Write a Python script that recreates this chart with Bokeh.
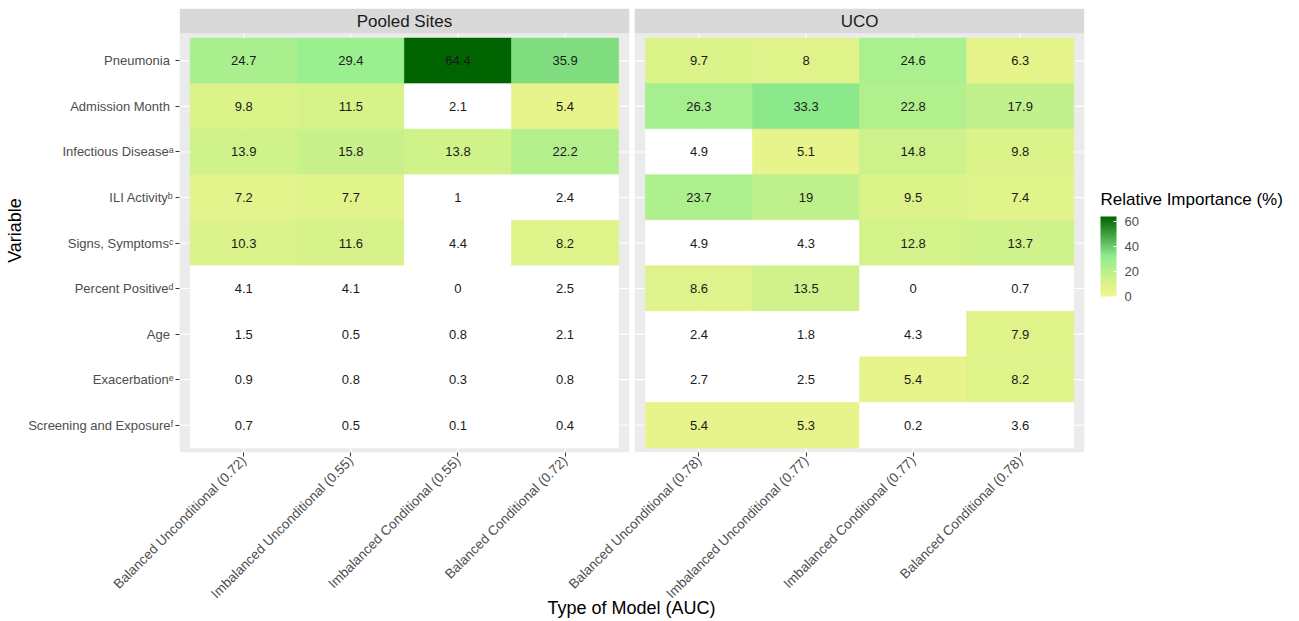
import numpy as np
from bokeh.plotting import figure
from bokeh.models import ColumnDataSource, LinearColorMapper, ColorBar, FixedTicker
from bokeh.transform import transform
from bokeh.core.properties import value
from bokeh.embed import file_html
from bokeh.resources import INLINE

# ---------------- data ----------------
variables = ["Pneumonia\u00a0", "Admission Month\u00a0", "Infectious Disease\u1d43",
             "ILI Activity\u1d47", "Signs, Symptoms\u1d9c", "Percent Positive\u1d48",
             "Age\u00a0", "Exacerbation\u1d49", "Screening and Exposure\u1da0"]
panels = ["Pooled Sites", "UCO"]
models_pooled = ["Balanced Unconditional (0.72)", "Imbalanced Unconditional (0.55)",
                 "Imbalanced Conditional (0.55)", "Balanced Conditional (0.72)"]
models_uco = ["Balanced Unconditional (0.78)", "Imbalanced Unconditional (0.77)",
              "Imbalanced Conditional (0.77)", "Balanced Conditional (0.78)"]
# rows follow `variables`, columns follow the model lists
pooled_values = [[24.7, 29.4, 64.4, 35.9],
                 [9.8, 11.5, 2.1, 5.4],
                 [13.9, 15.8, 13.8, 22.2],
                 [7.2, 7.7, 1, 2.4],
                 [10.3, 11.6, 4.4, 8.2],
                 [4.1, 4.1, 0, 2.5],
                 [1.5, 0.5, 0.8, 2.1],
                 [0.9, 0.8, 0.3, 0.8],
                 [0.7, 0.5, 0.1, 0.4]]
uco_values = [[9.7, 8, 24.6, 6.3],
              [26.3, 33.3, 22.8, 17.9],
              [4.9, 5.1, 14.8, 9.8],
              [23.7, 19, 9.5, 7.4],
              [4.9, 4.3, 12.8, 13.7],
              [8.6, 13.5, 0, 0.7],
              [2.4, 1.8, 4.3, 7.9],
              [2.7, 2.5, 5.4, 8.2],
              [5.4, 5.3, 0.2, 3.6]]
legend_ticks = [0, 20, 40, 60]
x_title = "Type of Model (AUC)"
y_title = "Variable"
legend_title = "Relative Importance (%)"

# ---------------- style / layout constants ----------------
FONT = "Liberation Sans"
EXPAND = 0.6          # ggplot discrete expansion
GAP = 0.05            # gap between facet panels (data units)
STRIP = 0.55          # strip height (data units)
SHOW_MIN = 5          # cells below this value are left white
COLOR_LOW, COLOR_HIGH = 0, 64.4
stops = [(0.0, (243, 246, 140)), (12.0, (214, 242, 138)), (32.2, (144, 238, 144)), (64.4, (0, 100, 0))]

def interp_palette(n=256):
    xs = np.linspace(COLOR_LOW, COLOR_HIGH, n)
    sp = np.array([s[0] for s in stops])
    cols = np.array([s[1] for s in stops], dtype=float)
    out = []
    for x in xs:
        r = np.interp(x, sp, cols[:, 0]); g = np.interp(x, sp, cols[:, 1]); b = np.interp(x, sp, cols[:, 2])
        out.append("#%02x%02x%02x" % (int(round(r)), int(round(g)), int(round(b))))
    return out

mapper = LinearColorMapper(palette=interp_palette(), low=COLOR_LOW, high=COLOR_HIGH, nan_color="white")

n_rows = len(variables)
n_cols = len(models_pooled)
panel_w = n_cols - 1 + 2 * EXPAND
panel_starts = [0.4 + k * (panel_w + GAP) for k in range(len(panels))]
y_lo, y_hi = 1 - EXPAND, n_rows + EXPAND

xs, ys, vals, fills, labels = [], [], [], [], []
tick_pos, tick_lab = [], []
for k, (mods, data) in enumerate([(models_pooled, pooled_values), (models_uco, uco_values)]):
    for j, m in enumerate(mods):
        xc = panel_starts[k] + EXPAND + j
        tick_pos.append(xc); tick_lab.append(m)
        for i in range(n_rows):
            v = data[i][j]
            xs.append(xc); ys.append(n_rows - i)
            vals.append(v)
            fills.append(v if v >= SHOW_MIN else np.nan)
            labels.append(f"{v:g}")

src = ColumnDataSource(dict(x=xs, y=ys, val=vals, fill=np.array(fills, dtype=float), label=labels))

x0, x1 = panel_starts[0], panel_starts[-1] + panel_w
p = figure(width=1299, height=621, output_backend="svg", toolbar_location=None,
           x_range=(x0, x1), y_range=(y_lo, y_hi + STRIP),
           min_border_left=179, min_border_right=215, min_border_top=8, min_border_bottom=169)
p.outline_line_color = None
p.grid.visible = False
p.background_fill_color = "white"
p.border_fill_color = "white"

# panel backgrounds and strips
pb = ColumnDataSource(dict(left=panel_starts, right=[s + panel_w for s in panel_starts],
                           name=panels, cx=[s + panel_w / 2 for s in panel_starts]))
p.quad(left="left", right="right", bottom=y_lo, top=y_hi, source=pb,
       fill_color="#EBEBEB", line_color=None)
p.quad(left="left", right="right", bottom=y_hi, top=y_hi + STRIP, source=pb,
       fill_color="#D9D9D9", line_color=None)
p.text(x="cx", y=y_hi + STRIP / 2, text="name", source=pb, text_align="center",
       text_baseline="middle", text_font=value(FONT), text_font_size="17px", text_color="#1A1A1A")

# grid lines (white)
gx0, gx1, gy0, gy1 = [], [], [], []
for s in panel_starts:
    for j in range(n_cols):
        xc = s + EXPAND + j
        gx0.append(xc); gx1.append(xc); gy0.append(y_lo); gy1.append(y_hi)
    for i in range(1, n_rows + 1):
        gx0.append(s); gx1.append(s + panel_w); gy0.append(i); gy1.append(i)
p.segment(x0=gx0, y0=gy0, x1=gx1, y1=gy1, line_color="white", line_width=1.1)

# tiles
p.rect(x="x", y="y", width=1, height=1, source=src,
       fill_color=transform("fill", mapper), line_color=transform("fill", mapper), line_width=0.6)
p.text(x="x", y="y", text="label", source=src, text_align="center", text_baseline="middle",
       text_font=value(FONT), text_font_size="13px", text_color="#1A1A1A")

# axes
p.xaxis.ticker = FixedTicker(ticks=tick_pos)
p.xaxis.major_label_overrides = {t: l for t, l in zip(tick_pos, tick_lab)}
p.xaxis.major_label_orientation = np.pi / 4
p.yaxis.ticker = FixedTicker(ticks=list(range(1, n_rows + 1)))
p.yaxis.major_label_overrides = {n_rows - i: v for i, v in enumerate(variables)}
for ax in (p.xaxis[0], p.yaxis[0]):
    ax.axis_line_color = None
    ax.major_tick_line_color = "#333333"
    ax.major_tick_in = 0
    ax.major_tick_out = 4
    ax.minor_tick_line_color = None
    ax.major_label_text_font = FONT
    ax.major_label_text_font_size = "13px"
    ax.major_label_text_color = "#4D4D4D"
    ax.major_label_text_line_height = 1.0
    ax.major_label_standoff = 2
    ax.axis_label_text_font = FONT
    ax.axis_label_text_font_size = "18px"
    ax.axis_label_text_font_style = "normal"
    ax.axis_label_text_color = "black"
    ax.axis_label_text_line_height = 1.0
    ax.axis_label_standoff = 0
p.xaxis.major_label_text_font_size = "13.5px"
p.yaxis.axis_label = y_title

def title_holder(text, size, loc):
    """Horizontal, fully transparent colour bar used only to carry a horizontal title
    outside the plotting frame (Label annotations are clipped to the frame)."""
    return ColorBar(color_mapper=mapper, orientation="horizontal", ticker=FixedTicker(ticks=[]),
                    width=10, height=1, scale_alpha=0, title=text, title_text_font=FONT,
                    title_text_font_size=size, title_text_font_style="normal",
                    title_text_color="black", title_standoff=0, bar_line_color=None,
                    border_line_color=None, background_fill_alpha=0, major_tick_line_color=None,
                    minor_tick_line_color=None, padding=0, location=loc)

# x-axis title, centred under both panels
p.add_layout(title_holder(x_title, "18px", (368, -166)), "center")
# legend title and colour bar
p.add_layout(title_holder(legend_title, "17px", (921, 243)), "center")
cb = ColorBar(color_mapper=mapper, ticker=FixedTicker(ticks=legend_ticks), width=16, height=80,
              major_label_text_font=FONT, major_label_text_font_size="13px",
              major_label_text_color="#4D4D4D", label_standoff=8,
              major_tick_line_color="white", major_tick_in=3, major_tick_out=0,
              bar_line_color=None, border_line_color=None, background_fill_alpha=0,
              padding=0, location=(921, 156))
p.add_layout(cb, "center")

open("out.html", "w").write(file_html(p, INLINE))
